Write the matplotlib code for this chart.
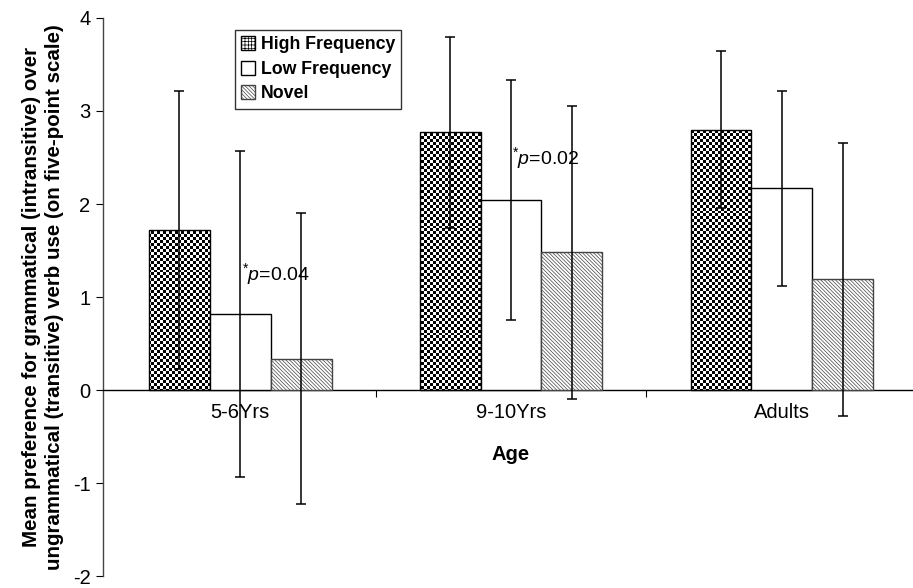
import numpy as np
import matplotlib
matplotlib.use("Agg")
import matplotlib.pyplot as plt

plt.rcParams['font.family'] = ['Liberation Sans', 'DejaVu Sans']
plt.rcParams['mathtext.fontset'] = 'custom'
plt.rcParams['mathtext.rm'] = 'Liberation Sans'
plt.rcParams['mathtext.it'] = 'Liberation Sans:italic'
plt.rcParams['axes.unicode_minus'] = False
plt.rcParams['hatch.color'] = '#a0a0a0'
plt.rcParams['hatch.linewidth'] = 0.5

groups = ['5-6Yrs', '9-10Yrs', 'Adults']
series = ['High Frequency', 'Low Frequency', 'Novel']
high = [1.72, 2.77, 2.80]
high_err = [1.49, 1.03, 0.84]
low = [0.82, 2.04, 2.17]
low_err = [1.75, 1.29, 1.05]
novel = [0.34, 1.48, 1.19]
novel_err = [1.56, 1.57, 1.47]
notes = ['*p=0.04', '*p=0.02']
note_pos = [(0.007, 1.25), (1.004, 2.49)]

fig = plt.figure(figsize=(9.13, 5.88), dpi=100)
ax = fig.add_axes([0.1128, 0.02, 0.887, 0.9495])

x = np.arange(len(groups))
w = 0.225
xlim = (-0.506, 2.483)
ylim = (-2, 4)

b_hi = ax.bar(x - w, high, w, facecolor='none', edgecolor='black', linewidth=1.0, zorder=3)
b_lo = ax.bar(x, low, w, facecolor='white', edgecolor='black', linewidth=1.0, zorder=3)
b_nv = ax.bar(x + w, novel, w, facecolor='white', edgecolor='#444444', hatch='\\' * 9,
              linewidth=1.0, zorder=3)

# checkerboard fill for high frequency bars (cells ~3px)
nx, ny = 270, 188
yy, xx = np.mgrid[0:ny, 0:nx]
checker = ((xx + yy) % 2).astype(float)
for b in b_hi:
    im = ax.imshow(checker, cmap='gray', extent=(*xlim, *ylim), aspect='auto',
                   interpolation='nearest', zorder=2)
    im.set_clip_path(b)

for xs, vals, errs in [(x - w, high, high_err), (x, low, low_err), (x + w, novel, novel_err)]:
    ax.errorbar(xs, vals, yerr=errs, fmt='none', ecolor='black', elinewidth=1.1,
                capsize=3.5, capthick=1.1, zorder=4)

for txt, (tx, ty) in zip(notes, note_pos):
    ax.text(tx, ty, r'$^{*}\mathit{p}$=' + txt.split('=')[1], fontsize=14,
            ha='left', va='center', zorder=5)

ax.set_xlim(*xlim)
ax.set_ylim(*ylim)

ax.spines['top'].set_visible(False)
ax.spines['right'].set_visible(False)
ax.spines['bottom'].set_position(('data', 0))
ax.spines['left'].set_linewidth(1.0)
ax.spines['left'].set_color('#444444')
ax.spines['bottom'].set_linewidth(1.0)

ax.set_yticks(range(-2, 5))
ax.tick_params(axis='y', direction='out', length=5, labelsize=14.5, pad=4)
ax.set_xticks([0.5, 1.5])
ax.set_xticklabels([])
ax.set_xticks(x, minor=True)
ax.set_xticklabels(groups, minor=True)
ax.tick_params(axis='x', which='major', direction='out', length=5)
ax.tick_params(axis='x', which='minor', length=0, labelsize=14.5, pad=9)

ax.text(1, -0.69, 'Age', ha='center', va='center', fontsize=14.5, fontweight='bold')
ax.set_ylabel('Mean preference for grammatical (intransitive) over\n'
              'ungrammatical (transitive) verb use (on five-point scale)',
              fontsize=14.8, fontweight='bold', labelpad=6, linespacing=1.3)

leg = ax.legend([b_hi[0], b_lo[0], b_nv[0]], series, loc='upper left',
                bbox_to_anchor=(0.163, 0.978), frameon=True, fancybox=False,
                edgecolor='black', prop={'weight': 'bold', 'size': 12.8},
                handlelength=0.8, handleheight=0.8, handletextpad=0.3,
                borderpad=0.35, labelspacing=0.42, borderaxespad=0)
leg.get_frame().set_linewidth(1.0)
leg.legend_handles[0].set_hatch('+++++')
leg.legend_handles[0].set_facecolor('white')

fig.savefig('out.png', dpi=100)
